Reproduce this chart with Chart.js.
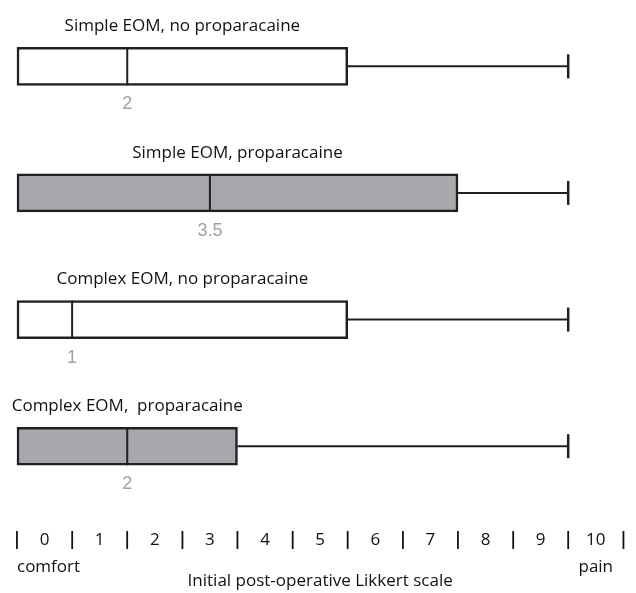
<!DOCTYPE html>
<html>
<head>
<meta charset="utf-8">
<script src="https://cdn.jsdelivr.net/npm/chart.js@4/dist/chart.umd.min.js"></script>
<style>
  html, body { margin: 0; padding: 0; background: #ffffff; }
  #wrap { width: 636px; height: 593px; position: relative; }
</style>
</head>
<body>
<div id="wrap"><canvas id="c"></canvas></div>
<script>
// ---- data ----
const categories = [
  'Simple EOM, no proparacaine',
  'Simple EOM, proparacaine',
  'Complex EOM, no proparacaine',
  'Complex EOM,  proparacaine'
];
const minVals    = [0, 0, 0, 0];
const q1Vals     = [0, 0, 0, 0];
const medianVals = [2, 3.5, 1, 2];
const q3Vals     = [6, 8, 6, 4];
const maxVals    = [10, 10, 10, 10];
const scaleLabels = ['0', '1', '2', '3', '4', '5', '6', '7', '8', '9', '10'];
const endLabels = ['comfort', 'pain'];
const axisTitle = 'Initial post-operative Likkert scale';

const INK = '#231f20';
const GRAY = '#a8a7ab';
const fills = [ '#ffffff', GRAY, '#ffffff', GRAY ];
const FONT = "'Open Sans', 'DejaVu Sans', sans-serif";

const boxPlugin = {
  id: 'boxExtras',
  afterDatasetsDraw(chart) {
    const ctx = chart.ctx;
    const xs = chart.scales.x, ys = chart.scales.y;
    const half = 19;
    ctx.save();
    categories.forEach((name, i) => {
      const yc = ys.getPixelForValue(i);
      const xq3 = xs.getPixelForValue(q3Vals[i]);
      const xmax = xs.getPixelForValue(maxVals[i]);
      const xmed = xs.getPixelForValue(medianVals[i]);
      const xq1 = xs.getPixelForValue(q1Vals[i]);
      // whisker
      ctx.strokeStyle = INK;
      ctx.lineWidth = 2;
      ctx.beginPath();
      ctx.moveTo(xq3, yc);
      ctx.lineTo(xmax, yc);
      ctx.stroke();
      // cap
      ctx.lineWidth = 2.5;
      ctx.beginPath();
      ctx.moveTo(xmax, yc - 12);
      ctx.lineTo(xmax, yc + 12);
      ctx.stroke();
      // median
      ctx.lineWidth = 2;
      ctx.beginPath();
      ctx.moveTo(xmed, yc - half);
      ctx.lineTo(xmed, yc + half);
      ctx.stroke();
      // group label
      ctx.fillStyle = '#111111';
      ctx.font = "17px " + FONT;
      ctx.textAlign = 'center';
      ctx.textBaseline = 'middle';
      ctx.fillText(name, (xq1 + xq3) / 2, yc - 40);
      // median label
      ctx.fillStyle = '#a0a0a0';
      ctx.font = "18px 'Liberation Sans', Arial, sans-serif";
      ctx.fillText(String(medianVals[i]), xmed, yc + half + 19);
    });
    // end labels
    ctx.fillStyle = '#111111';
    ctx.font = "17px " + FONT;
    ctx.textBaseline = 'middle';
    ctx.textAlign = 'left';
    ctx.fillText(endLabels[0], xs.getPixelForValue(0), 567);
    ctx.textAlign = 'center';
    ctx.fillText(endLabels[1], xs.getPixelForValue(10.5), 567);
    ctx.restore();
  }
};

new Chart(document.getElementById('c'), {
  type: 'bar',
  data: {
    datasets: [{
      data: categories.map((_, i) => ({ x: [q1Vals[i], q3Vals[i]], y: i })),
      backgroundColor: fills,
      borderColor: INK,
      borderWidth: 2.5,
      borderSkipped: false,
      barThickness: 38,
      clip: false
    }]
  },
  options: {
    indexAxis: 'y',
    responsive: true,
    maintainAspectRatio: false,
    animation: false,
    layout: { padding: { top: 3, left: 17, right: 12, bottom: 0 } },
    plugins: { legend: { display: false }, tooltip: { enabled: false } },
    scales: {
      y: {
        type: 'linear',
        reverse: true,
        offset: false,
        min: -0.5,
        max: 3.6,
        display: false
      },
      x: {
        type: 'linear',
        min: 0,
        max: 11,
        offset: false,
        grid: { display: false, drawTicks: false },
        border: { display: false },
        ticks: {
          stepSize: 0.5,
          autoSkip: false,
          maxRotation: 0,
          padding: 8,
          color: '#111111',
          font: (ctx) => {
            const v = ctx.tick ? ctx.tick.value : 0;
            return Number.isInteger(v)
              ? { family: FONT, size: 17, weight: 'bold' }
              : { family: FONT, size: 17 };
          },
          callback: (v) => Number.isInteger(v) ? '|' : scaleLabels[Math.floor(v)]
        },
        title: {
          display: true,
          text: axisTitle,
          color: '#111111',
          font: { family: FONT, size: 17 },
          padding: { top: 12, bottom: 2 }
        }
      }
    }
  },
  plugins: [boxPlugin]
});
</script>
</body>
</html>
